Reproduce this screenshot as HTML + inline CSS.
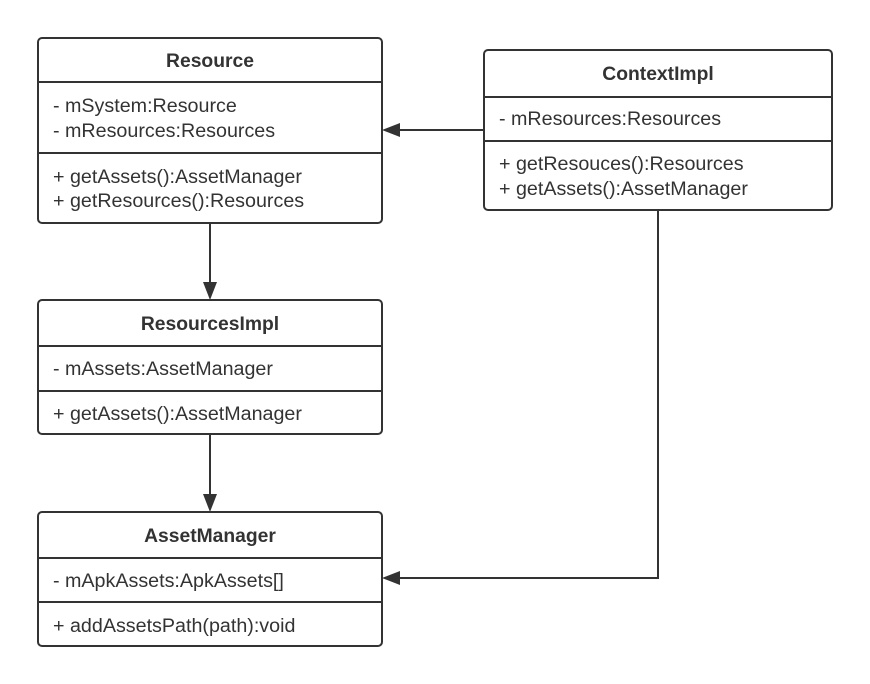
<!DOCTYPE html>
<html><head><meta charset="utf-8"><style>
html,body{margin:0;padding:0;background:#fff;}
svg{display:block;}
text{font-family:"Liberation Sans",sans-serif;font-size:19.7px;fill:#333;}
.b{font-weight:bold;font-size:19.3px;}
</style></head><body>
<svg width="870" height="684" viewBox="0 0 870 684" xmlns="http://www.w3.org/2000/svg">
<g fill="#fff" stroke="#333" stroke-width="2">
<rect x="38" y="38" width="344" height="185" rx="4"/>
<rect x="484" y="50" width="348" height="160" rx="4"/>
<rect x="38" y="300" width="344" height="134" rx="4"/>
<rect x="38" y="512" width="344" height="134" rx="4"/>
</g>
<g stroke="#333" stroke-width="2">
<line x1="38" y1="82" x2="382" y2="82"/><line x1="38" y1="153" x2="382" y2="153"/>
<line x1="484" y1="97" x2="832" y2="97"/><line x1="484" y1="141" x2="832" y2="141"/>
<line x1="38" y1="346" x2="382" y2="346"/><line x1="38" y1="391" x2="382" y2="391"/>
<line x1="38" y1="558" x2="382" y2="558"/><line x1="38" y1="602" x2="382" y2="602"/>
</g>
<g stroke="#333" stroke-width="2" fill="none">
<line x1="484" y1="130" x2="398" y2="130"/>
<line x1="210" y1="223" x2="210" y2="285"/>
<line x1="210" y1="434" x2="210" y2="497"/>
<polyline points="658,210 658,578 398,578"/>
</g>
<g fill="#333">
<polygon points="382,130 400,123 400,137"/>
<polygon points="210,300 203,282 217,282"/>
<polygon points="210,512 203,494 217,494"/>
<polygon points="382,578 400,571 400,585"/>
</g>
<text class="b" x="210" y="67" text-anchor="middle">Resource</text>
<text x="53" y="112">- mSystem:Resource</text>
<text x="53" y="137">- mResources:Resources</text>
<text x="53" y="183">+ getAssets():AssetManager</text>
<text x="53" y="207">+ getResources():Resources</text>
<text class="b" x="658" y="80" text-anchor="middle">ContextImpl</text>
<text x="499" y="125">- mResources:Resources</text>
<text x="499" y="170">+ getResouces():Resources</text>
<text x="499" y="195">+ getAssets():AssetManager</text>
<text class="b" x="210" y="330" text-anchor="middle">ResourcesImpl</text>
<text x="53" y="375">- mAssets:AssetManager</text>
<text x="53" y="420">+ getAssets():AssetManager</text>
<text class="b" x="210" y="542" text-anchor="middle">AssetManager</text>
<text x="53" y="587">- mApkAssets:ApkAssets[]</text>
<text x="53" y="632">+ addAssetsPath(path):void</text>
</svg>
</body></html>
